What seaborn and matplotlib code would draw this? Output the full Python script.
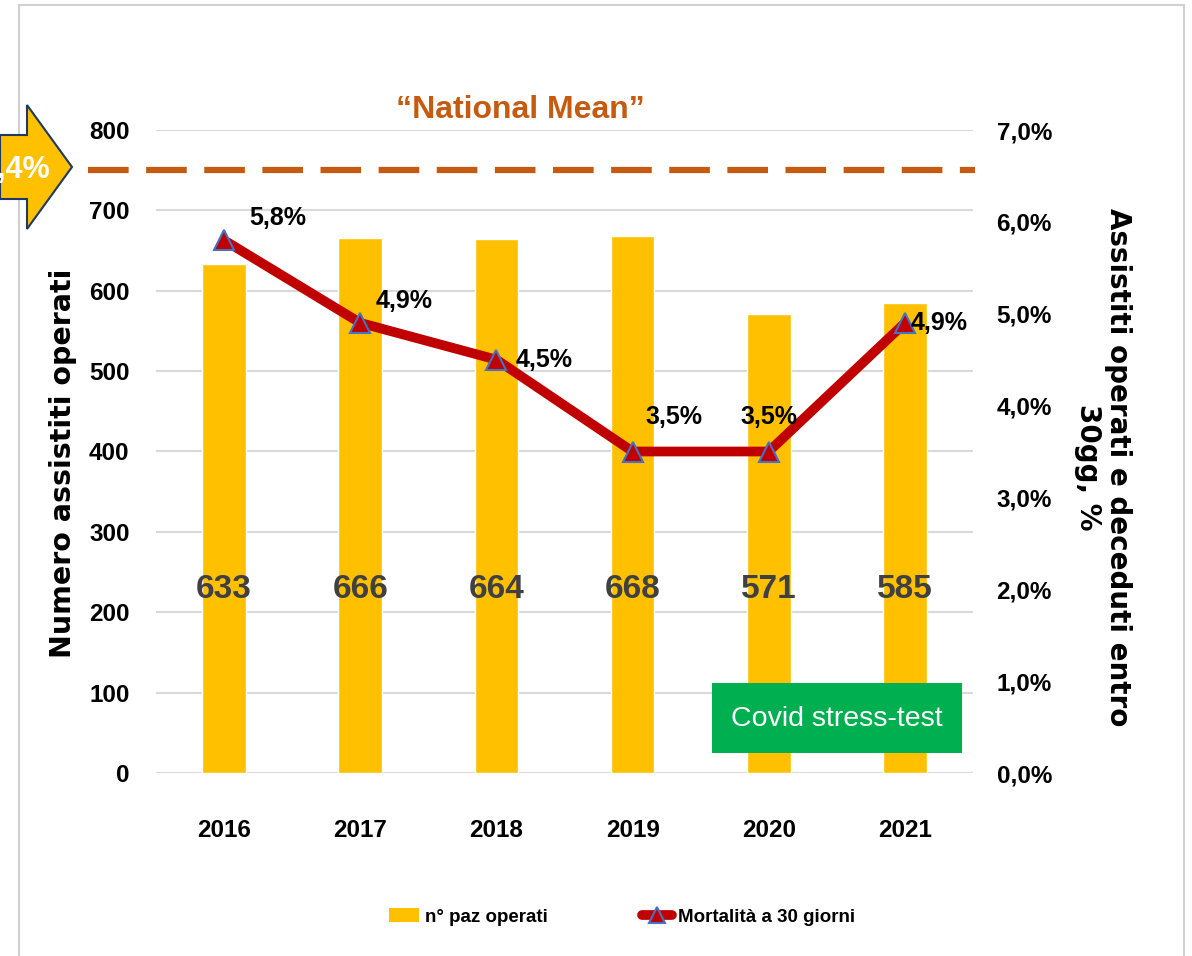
import numpy as np
import pandas as pd
import seaborn as sns
import matplotlib.pyplot as plt
from matplotlib.patches import Polygon, Rectangle, Patch
from matplotlib.lines import Line2D
from matplotlib.ticker import FuncFormatter
from matplotlib.transforms import blended_transform_factory

sns.set_theme(style="white")
plt.rcParams['font.family'] = ['Liberation Sans', 'DejaVu Sans']
plt.rcParams['text.color'] = 'black'
plt.rcParams['xtick.color'] = 'black'
plt.rcParams['ytick.color'] = 'black'

years = ['2016', '2017', '2018', '2019', '2020', '2021']
operated = [633, 666, 664, 668, 571, 585]
mortality = [5.8, 4.9, 4.5, 3.5, 3.5, 4.9]
mortality_labels = ['5,8%', '4,9%', '4,5%', '3,5%', '3,5%', '4,9%']
national_mean_label = '6,4%'
national_mean_level = 750  # on the left axis scale

W, H = 1192, 956
fig = plt.figure(figsize=(W / 100, H / 100), dpi=100)
ax = fig.add_axes([156 / W, 183 / H, (973 - 156) / W, (826 - 183) / H])

df = pd.DataFrame({'year': years, 'n': operated})
sns.barplot(data=df, x='year', y='n', color='#FFC000', saturation=1, width=0.32, ax=ax, zorder=2)
ax.set_xlim(-0.5, 5.5)
ax.set_ylim(0, 800)
ax.set_yticks(range(0, 801, 100))
ax.yaxis.grid(True, color='#D9D9D9', lw=1.5, zorder=0)
ax.set_axisbelow(True)
ax.set_xlabel('')
ax.set_ylabel('')
for s in ax.spines.values():
    s.set_visible(False)
ax.tick_params(axis='both', length=0, labelsize=17.5, labelcolor='black')
ax.tick_params(axis='x', pad=33)
ax.tick_params(axis='y', pad=19)
for t in ax.get_xticklabels() + ax.get_yticklabels():
    t.set_fontweight('bold')

# bar value labels
for i, v in enumerate(operated):
    ax.text(i, 228, str(v), ha='center', va='center', fontsize=24, fontweight='bold', color='#404040', zorder=3)

# line on secondary axis
ax2 = ax.twinx()
sns.lineplot(x=list(range(len(years))), y=mortality, color='#C00000', lw=7, marker='^', markersize=14,
             markerfacecolor='#C00000', markeredgecolor='#4472C4', markeredgewidth=1.5, legend=False, ax=ax2)
ax2.set_ylim(0, 7)
ax2.set_yticks(np.arange(0, 7.01, 1))
ax2.yaxis.set_major_formatter(FuncFormatter(lambda v, p: f'{v:.1f}%'.replace('.', ',')))
for s in ax2.spines.values():
    s.set_visible(False)
ax2.tick_params(axis='y', length=0, labelsize=17.5, pad=17, labelcolor='black')
for t in ax2.get_yticklabels():
    t.set_fontweight('bold')
ax2.set_ylabel('')

offsets = [(18, 16), (11, 16), (14, 0), (9, 25), (-20, 25), (4, 0)]
for i, (v, lab) in enumerate(zip(mortality, mortality_labels)):
    ax2.annotate(lab, (i, v), xytext=offsets[i], textcoords='offset points', ha='left', va='center',
                 fontsize=18, fontweight='bold', color='black')

# national mean dashed line
tr = blended_transform_factory(fig.transFigure, ax.transData)
ax.plot([88 / W, 975 / W], [national_mean_level, national_mean_level], transform=tr, clip_on=False,
        color='#C55A11', lw=4.5, dashes=(6.5, 2.8), solid_capstyle='butt', zorder=5)
fig.text(520 / W, 1 - 110 / H, '\u201cNational Mean\u201d', ha='center', va='center', fontsize=23,
         fontweight='bold', color='#C55A11')

# arrow on the left
pts = [(0, 135), (27, 135), (27, 105), (72, 167), (27, 229), (27, 199), (0, 199)]
arrow = Polygon([(x / W, 1 - y / H) for x, y in pts], closed=True, transform=fig.transFigure,
                facecolor='#FFC000', edgecolor='#1F3864', lw=1.5, zorder=6)
fig.patches.append(arrow)
fig.text(50 / W, 1 - 170 / H, national_mean_label, ha='right', va='center', fontsize=22,
         fontweight='bold', color='white', zorder=7)

# frame
fig.patches.append(Rectangle((19 / W, -0.01), (1184 - 19) / W, 1 - 5 / H + 0.01, transform=fig.transFigure,
                             facecolor='none', edgecolor='#D0D0D0', lw=1.5, zorder=0))

# covid box
fig.patches.append(Rectangle((712 / W, 1 - 753 / H), 250 / W, 70 / H, transform=fig.transFigure,
                             facecolor='#00B050', edgecolor='none', zorder=8))
fig.text(837 / W, 1 - 719 / H, 'Covid stress-test', ha='center', va='center', fontsize=20.5, color='white',
         zorder=9)

# axis titles
fig.text(63 / W, 1 - 463 / H, 'Numero assistiti operati', rotation=90, ha='center', va='center',
         fontsize=20.5, fontweight='bold', family='DejaVu Sans')
fig.text(1103 / W, 1 - 467 / H, 'Assistiti operati e deceduti entro\n30gg, %', rotation=-90, ha='center',
         va='center', multialignment='center', fontsize=20, fontweight='bold', family='DejaVu Sans',
         linespacing=1.05)

# legend
handles = [Patch(facecolor='#FFC000', edgecolor='none'),
           Line2D([], [], color='#C00000', lw=7, marker='^', markersize=12, markerfacecolor='#C00000',
                  markeredgecolor='#4472C4', markeredgewidth=1.5)]
fig.legend(handles, ['n\u00b0 paz operati', 'Mortalit\u00e0 a 30 giorni'], loc='center',
           bbox_to_anchor=(622 / W, 1 - 917 / H), ncol=2, frameon=False, columnspacing=5.0,
           handlelength=1.6, handletextpad=0.35, prop={'size': 13.5, 'weight': 'bold'})

fig.savefig('out.png', dpi=100)
